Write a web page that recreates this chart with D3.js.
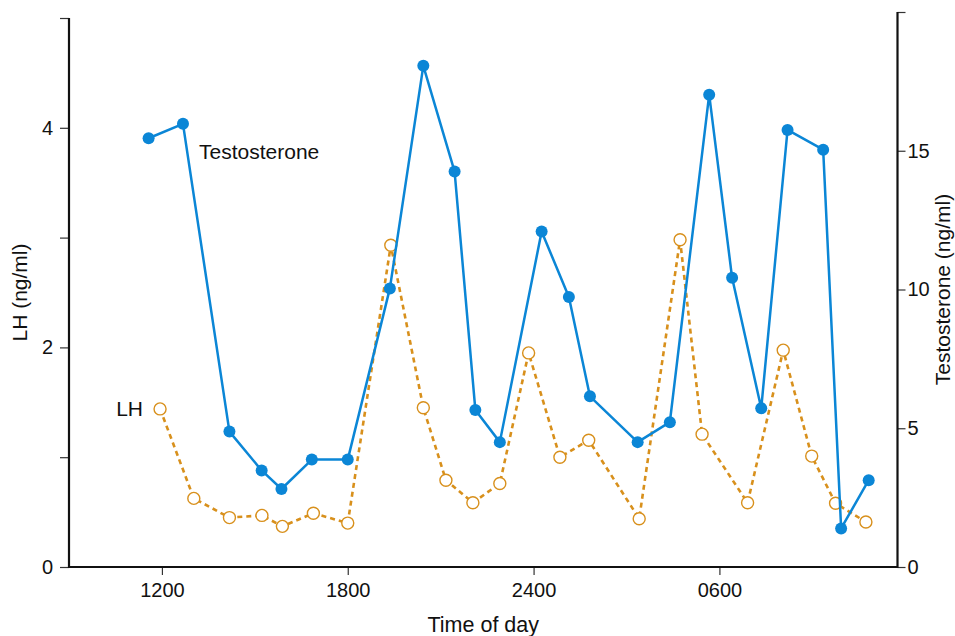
<!DOCTYPE html>
<html>
<head>
<meta charset="utf-8">
<script src="https://cdn.jsdelivr.net/npm/d3@7"></script>
<style>
  body { margin: 0; background: #fff; }
  svg { font-family: "Liberation Sans", Arial, sans-serif; }
</style>
</head>
<body>
<svg width="955" height="636"></svg>
<script>
// hours since midnight of day 1 (24 = midnight, 30 = 0600 next day)
const testoTimes = [11.57, 12.68, 14.18, 15.22, 15.86, 16.84, 18.0, 19.36, 20.44, 21.45, 22.12, 22.91,
    24.26, 25.14, 25.82, 27.36, 28.40, 29.67, 30.41, 31.35, 32.2, 33.35, 33.93, 34.82];
const testoValues = [15.45, 15.97, 4.88, 3.48, 2.81, 3.87, 3.87, 10.04, 18.06, 14.25, 5.66, 4.50,
    12.09, 9.73, 6.15, 4.50, 5.22, 17.02, 10.42, 5.72, 15.75, 15.04, 1.39, 3.13];

const lhTimes = [11.94, 13.03, 14.18, 15.23, 15.89, 16.89, 18.0, 19.39, 20.44, 21.17, 22.04, 22.91,
    23.84, 24.85, 25.78, 27.41, 28.73, 29.44, 30.91, 32.06, 32.98, 33.75, 34.73];
const lhValues = [1.44, 0.625, 0.45, 0.47, 0.37, 0.49, 0.40, 2.93, 1.45, 0.79, 0.585, 0.76,
    1.95, 1.00, 1.155, 0.44, 2.98, 1.21, 0.585, 1.975, 1.01, 0.58, 0.41];

const timeTicks = [12, 18, 24, 30];
const lhTicks = [0, 1, 2, 3, 4, 5];
const testoTicks = [0, 5, 10, 15, 20];

const svg = d3.select("svg");
const plotLeft = 69, plotRight = 897.5, plotTop = 18, plotBottom = 567, rightTop = 12;

const x = d3.scaleLinear().domain([9, 35.75]).range([plotLeft, plotRight]);
const yLH = d3.scaleLinear().domain([0, 5]).range([plotBottom, plotTop]);
const yT = d3.scaleLinear().domain([0, 20]).range([plotBottom, rightTop]);

const blue = "#0b86d6";
const orange = "#d8901c";

function fmtTime(h) {
    if (h === 24) return "2400";
    const hh = h % 24;
    return String(hh).padStart(2, "0") + "00";
}

function styleAxis(g) {
    g.selectAll(".domain").remove();
    g.selectAll(".tick line").attr("stroke", "#333").attr("stroke-width", 1.2);
    g.selectAll(".tick text").attr("font-size", 20).attr("fill", "#111")
        .attr("font-family", "Liberation Sans, Arial, sans-serif");
}

// axes
svg.append("g")
    .attr("transform", `translate(0,${plotBottom})`)
    .call(d3.axisBottom(x).tickValues(timeTicks).tickFormat(fmtTime).tickSize(8).tickPadding(8))
    .call(styleAxis);

svg.append("g")
    .attr("transform", `translate(${plotLeft},0)`)
    .call(d3.axisLeft(yLH).tickValues(lhTicks).tickFormat(d => d % 2 === 0 && d < 5 ? d : "").tickSize(9).tickPadding(7))
    .call(styleAxis);

svg.append("g")
    .attr("transform", `translate(${plotRight},0)`)
    .call(d3.axisRight(yT).tickValues(testoTicks).tickFormat(d => d < 20 ? d : "").tickSize(8).tickPadding(2))
    .call(styleAxis);

// axis lines
const frame = d3.path();
frame.moveTo(plotLeft, plotTop);
frame.lineTo(plotLeft, plotBottom);
frame.lineTo(plotRight, plotBottom);
frame.lineTo(plotRight, rightTop);
svg.append("path")
    .attr("d", frame.toString())
    .attr("fill", "none")
    .attr("stroke", "#111")
    .attr("stroke-width", 2.2);

// LH series
const lhData = lhTimes.map((t, i) => ({t: t, v: lhValues[i]}));
svg.append("path")
    .datum(lhData)
    .attr("fill", "none")
    .attr("stroke", orange)
    .attr("stroke-width", 2.6)
    .attr("stroke-dasharray", "5,4")
    .attr("d", d3.line().x(d => x(d.t)).y(d => yLH(d.v)));

svg.append("g").selectAll("circle")
    .data(lhData)
    .enter().append("circle")
    .attr("cx", d => x(d.t))
    .attr("cy", d => yLH(d.v))
    .attr("r", 6)
    .attr("fill", "#fff")
    .attr("stroke", orange)
    .attr("stroke-width", 1.4);

// testosterone series
const tData = testoTimes.map((t, i) => ({t: t, v: testoValues[i]}));
svg.append("path")
    .datum(tData)
    .attr("fill", "none")
    .attr("stroke", blue)
    .attr("stroke-width", 2.5)
    .attr("stroke-linejoin", "round")
    .attr("d", d3.line().x(d => x(d.t)).y(d => yT(d.v)));

svg.append("g").selectAll("circle")
    .data(tData)
    .enter().append("circle")
    .attr("cx", d => x(d.t))
    .attr("cy", d => yT(d.v))
    .attr("r", 6)
    .attr("fill", blue);

// labels
svg.append("text").attr("x", 199).attr("y", 159).attr("font-size", 21).attr("fill", "#111").text("Testosterone");
svg.append("text").attr("x", 143).attr("y", 416).attr("font-size", 21).attr("fill", "#111")
    .attr("text-anchor", "end").text("LH");

svg.append("text")
    .attr("transform", `translate(27,${(plotTop + plotBottom) / 2}) rotate(-90)`)
    .attr("text-anchor", "middle").attr("font-size", 21).attr("fill", "#111")
    .text("LH (ng/ml)");

svg.append("text")
    .attr("transform", `translate(950,${(rightTop + plotBottom) / 2}) rotate(-90)`)
    .attr("text-anchor", "middle").attr("font-size", 21).attr("fill", "#111")
    .text("Testosterone (ng/ml)");

svg.append("text")
    .attr("x", (plotLeft + plotRight) / 2).attr("y", 632)
    .attr("text-anchor", "middle").attr("font-size", 21.5).attr("fill", "#111")
    .text("Time of day");
</script>
</body>
</html>
